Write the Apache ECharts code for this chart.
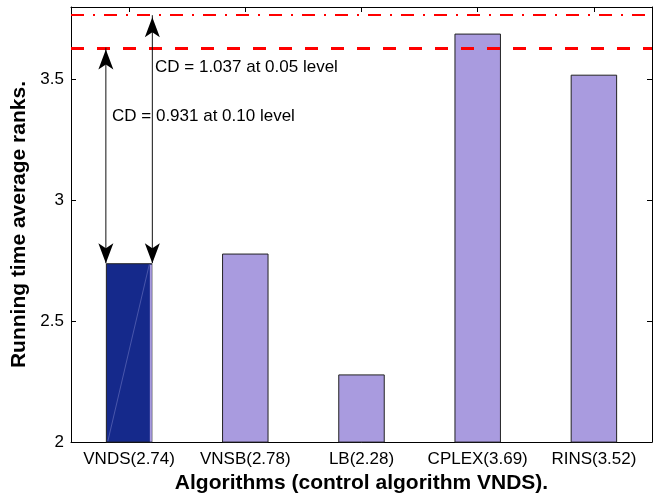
<!DOCTYPE html>
<html>
<head>
<meta charset="utf-8">
<script src="https://cdn.jsdelivr.net/npm/echarts@6/dist/echarts.min.js"></script>
<style>
  html, body { margin: 0; padding: 0; background: #ffffff; }
  #chart { width: 653px; height: 499px; }
</style>
</head>
<body>
<div id="chart"></div>
<script>
// Average running-time ranks per algorithm
const algorithms = ['VNDS', 'VNSB', 'LB', 'CPLEX', 'RINS'];
const avgRanks = [2.74, 2.78, 2.28, 3.69, 3.52];
const controlIndex = 0;

// Critical differences and the reference lines they produce
const cdLevels = ['0.10', '0.05'];
const cdValues = [0.931, 1.037];
const cdLineValues = [3.632, 3.766];

// Y axis range and ticks
const yMin = 2;
const yMax = 3.8;
const yStep = 0.5;

const FONT = '"Liberation Sans", Arial, Helvetica, sans-serif';
const LIGHT = '#a99bdf';
const DARK = '#15298b';

const categoryLabels = algorithms.map((a, i) => `${a}(${avgRanks[i].toFixed(2)})`);

const chart = echarts.init(document.getElementById('chart'), null, { renderer: 'canvas' });

// Each arrow spans from the control bar's top to one CD line, at one bar edge
const arrowData = cdLineValues.map((v, i) => [controlIndex, avgRanks[controlIndex], v, i === 0 ? -1 : 1]);

function arrowHead(x, y, dirY) {
  // dirY = 1: tip points down; -1: tip points up
  const L = 20, W = 15, N = 5;
  const by = y - dirY * L;
  return {
    type: 'polygon',
    shape: { points: [[x, y], [x - W / 2, by], [x, by + dirY * N], [x + W / 2, by]] },
    style: { fill: '#000' }
  };
}

function renderArrows(params, api) {
  const cat = api.value(0);
  const base = api.coord([cat, api.value(1)]);
  const top = api.coord([cat, api.value(2)]);
  const band = api.size([1, 0])[0];
  const half = band * 0.2;
  const x = base[0] + api.value(3) * half;
  const children = [];
  if (params.dataIndex === 0) {
    // light edge strip and faint diagonal on the control bar
    const bottom = api.coord([cat, yMin]);
    const right = base[0] + half;
    children.push({
      type: 'rect',
      shape: { x: right - 2.5, y: base[1] + 1.5, width: 2, height: bottom[1] - base[1] - 2 },
      style: { fill: LIGHT }
    });
    children.push({
      type: 'line',
      shape: { x1: base[0] - half + 2, y1: bottom[1] - 1, x2: right - 3, y2: base[1] + 1 },
      style: { stroke: 'rgba(170,170,230,0.35)', lineWidth: 1 }
    });
  }
  children.push({
    type: 'line',
    shape: { x1: x, y1: base[1], x2: x, y2: top[1] },
    style: { stroke: '#111', lineWidth: 1 }
  });
  children.push(arrowHead(x, base[1], 1));
  children.push(arrowHead(x, top[1] + 2, -1));
  return { type: 'group', children };
}

const axisLine = { show: true, lineStyle: { color: '#000', width: 1 } };

chart.setOption({
  animation: false,
  backgroundColor: '#ffffff',
  grid: { left: 71, right: 1, top: 7, bottom: 54, containLabel: false },
  xAxis: [
    {
      type: 'category',
      data: categoryLabels,
      position: 'bottom',
      boundaryGap: true,
      axisLine,
      axisTick: { show: true, inside: true, alignWithLabel: true, length: 5, lineStyle: { color: '#000' } },
      axisLabel: { color: '#000', fontFamily: FONT, fontSize: 17, margin: 9, interval: 0 },
      name: 'Algorithms (control algorithm VNDS).',
      nameLocation: 'middle',
      nameGap: 29,
      nameTextStyle: { color: '#000', fontFamily: FONT, fontSize: 21, fontWeight: 'bold' }
    },
    {
      type: 'category',
      data: categoryLabels,
      position: 'top',
      boundaryGap: true,
      axisLine,
      axisTick: { show: true, inside: true, alignWithLabel: true, length: 5, lineStyle: { color: '#000' } },
      axisLabel: { show: false }
    }
  ],
  yAxis: [
    {
      type: 'value',
      min: yMin, max: yMax, interval: yStep,
      position: 'left',
      axisLine,
      splitLine: { show: false },
      axisTick: { show: true, inside: true, length: 5, lineStyle: { color: '#000' } },
      axisLabel: { color: '#000', fontFamily: FONT, fontSize: 17, margin: 7, showMaxLabel: false },
      name: 'Running time average ranks.',
      nameLocation: 'middle',
      nameGap: 41,
      nameTextStyle: { color: '#000', fontFamily: FONT, fontSize: 21, fontWeight: 'bold' }
    },
    {
      type: 'value',
      min: yMin, max: yMax, interval: yStep,
      position: 'right',
      axisLine,
      splitLine: { show: false },
      axisTick: { show: true, inside: true, length: 5, lineStyle: { color: '#000' } },
      axisLabel: { show: false }
    }
  ],
  graphic: cdValues.map((cd, i) => ({
    type: 'text',
    z: 0,
    left: i === 0 ? 112 : 155,
    top: i === 0 ? 108 : 59,
    style: {
      text: `CD = ${cd.toFixed(3)} at ${cdLevels[i]} level`,
      fill: '#000',
      font: `17px ${FONT}`
    }
  })),
  series: [
    {
      type: 'bar',
      xAxisIndex: 0,
      yAxisIndex: 0,
      barWidth: '40%',
      data: avgRanks.map((v, i) => ({
        value: v,
        itemStyle: { color: i === controlIndex ? DARK : LIGHT }
      })),
      itemStyle: { borderColor: '#222', borderWidth: 1 },
      markLine: {
        silent: true,
        symbol: ['none', 'none'],
        label: { show: false },
        data: [
          { yAxis: cdLineValues[0], lineStyle: { color: '#ff0000', width: 3, type: [13, 13] } },
          { yAxis: cdLineValues[1], lineStyle: { color: '#ff0000', width: 2, type: [13, 9, 2, 9] } }
        ]
      }
    },
    {
      type: 'custom',
      xAxisIndex: 0,
      yAxisIndex: 0,
      renderItem: renderArrows,
      data: arrowData,
      z: 5
    }
  ]
});
</script>
</body>
</html>
